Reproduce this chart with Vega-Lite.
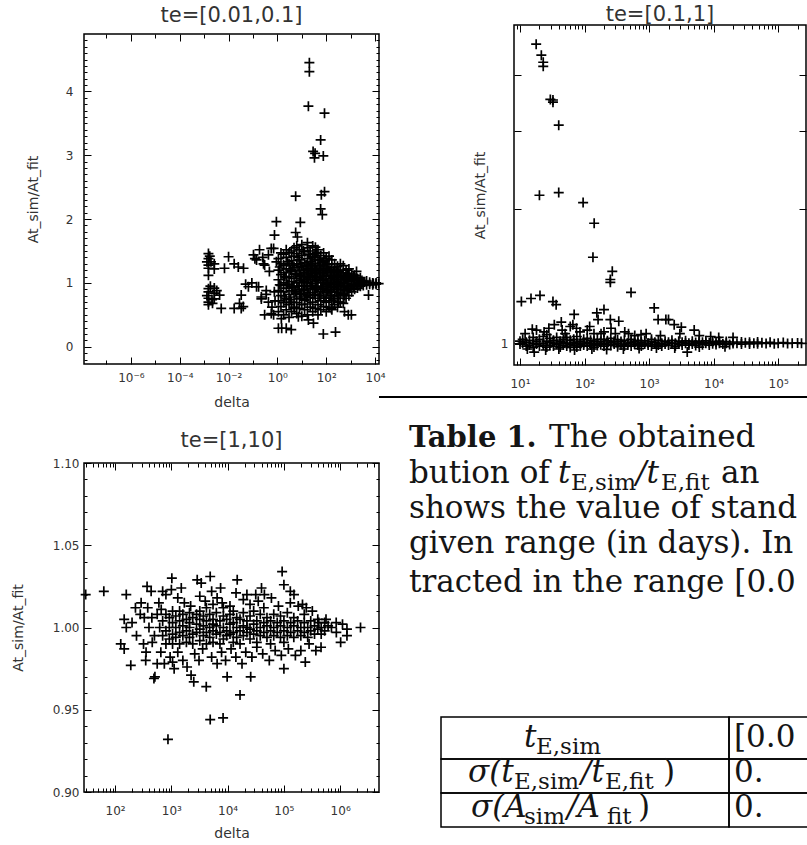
{
  "$schema": "https://vega.github.io/schema/vega-lite/v6.json",
  "padding": {"left": 10, "top": 2, "right": 0, "bottom": 0},
  "background": "white",
  "config": {
    "view": {"stroke": "black", "strokeWidth": 1.5},
    "axis": {"domain": false, "grid": false, "labelFont": "DejaVu Sans", "labelFontSize": 12, "labelColor": "#333", "tickColor": "black", "tickWidth": 1, "titleFont": "DejaVu Sans", "titleFontSize": 14, "titleFontWeight": "normal", "titleColor": "#333", "labelOverlap": false, "labelFlush": false, "labelBound": false, "labelAngle": 0},
    "title": {"font": "DejaVu Sans", "fontSize": 21, "fontWeight": "normal", "color": "#333", "baseline": "alphabetic"}
  },
  "datasets": {
    "lo": [
      {"delta":20.4,"ratio":4.45},{"delta":20.4,"ratio":4.31},{"delta":18.6,"ratio":3.77},{"delta":85,"ratio":3.66},{"delta":59,"ratio":3.24},{"delta":29,"ratio":3.06},{"delta":35,"ratio":3.03},{"delta":76,"ratio":2.99},{"delta":33,"ratio":2.96},{"delta":85,"ratio":2.43},{"delta":63,"ratio":2.38},{"delta":59,"ratio":2.16},{"delta":69,"ratio":2.07},{"delta":5.6,"ratio":2.36},{"delta":0.91,"ratio":1.96},{"delta":8.7,"ratio":1.95},{"delta":0.76,"ratio":1.75},{"delta":5.6,"ratio":1.79},{"delta":6.6,"ratio":1.72},{"delta":76,"ratio":0.2},{"delta":240,"ratio":0.23},{"delta":5400,"ratio":0.81},{"delta":800,"ratio":0.5},{"delta":1.1,"ratio":0.29},{"delta":1.5,"ratio":0.29},{"delta":2.3,"ratio":0.29},{"delta":3.7,"ratio":0.27},{"delta":30,"ratio":0.37},{"delta":1.45,"ratio":0.44},{"delta":7.2,"ratio":0.47},{"delta":18.6,"ratio":0.42},{"delta":560,"ratio":0.55},{"delta":1070,"ratio":0.5},{"delta":316,"ratio":0.7},{"delta":162,"ratio":0.6},{"delta":5,"ratio":0.6},{"delta":13,"ratio":0.74},{"delta":1740,"ratio":1.18},{"delta":3700,"ratio":1.02},{"delta":8500,"ratio":0.99},
      {"delta":0.0015,"ratio":1.46},{"delta":0.0015,"ratio":1.38},{"delta":0.0015,"ratio":1.28},{"delta":0.0015,"ratio":1.23},{"delta":0.0015,"ratio":1.12},{"delta":0.0015,"ratio":0.91},{"delta":0.0015,"ratio":0.86},{"delta":0.0015,"ratio":0.76},{"delta":0.0015,"ratio":0.7},{"delta":0.0015,"ratio":0.66},{"delta":0.0013,"ratio":1.33},{"delta":0.0013,"ratio":0.8},{"delta":0.0026,"ratio":1.3},{"delta":0.0026,"ratio":1.22},{"delta":0.0026,"ratio":0.92},{"delta":0.0026,"ratio":0.84},{"delta":0.0026,"ratio":0.75},{"delta":0.0022,"ratio":0.68},{"delta":0.0019,"ratio":1.33},{"delta":0.0018,"ratio":0.95},{"delta":0.0021,"ratio":0.74},{"delta":0.0017,"ratio":1.42},{"delta":0.0033,"ratio":0.88},
      {"delta":0.01,"ratio":1.41},{"delta":0.017,"ratio":1.3},{"delta":0.041,"ratio":1.23},{"delta":0.0068,"ratio":1.23},{"delta":0.025,"ratio":1.25},{"delta":0.0043,"ratio":0.81},{"delta":0.005,"ratio":0.6},{"delta":0.028,"ratio":0.68},{"delta":0.033,"ratio":0.6},{"delta":0.04,"ratio":0.63},{"delta":0.017,"ratio":0.6},{"delta":0.065,"ratio":0.94},{"delta":0.14,"ratio":0.94},{"delta":0.17,"ratio":0.94},{"delta":0.033,"ratio":0.81},{"delta":0.105,"ratio":1.44},{"delta":0.185,"ratio":1.52},{"delta":0.56,"ratio":1.54},{"delta":0.27,"ratio":1.3},{"delta":0.47,"ratio":1.18},{"delta":0.91,"ratio":1.33},{"delta":0.14,"ratio":1.36},{"delta":0.3,"ratio":1.28},{"delta":0.43,"ratio":1.44},{"delta":0.7,"ratio":1.54},{"delta":0.22,"ratio":0.78},{"delta":0.43,"ratio":0.7},{"delta":0.3,"ratio":0.5},{"delta":0.7,"ratio":0.5},{"delta":0.56,"ratio":0.52},{"delta":0.22,"ratio":0.75},{"delta":0.35,"ratio":0.82},{"delta":0.6,"ratio":0.62},{"delta":0.8,"ratio":0.72},{"delta":0.25,"ratio":1.4},{"delta":0.12,"ratio":1.38},{"delta":0.09,"ratio":1.0},{"delta":0.05,"ratio":0.98},{"delta":0.35,"ratio":0.88},{"delta":0.75,"ratio":0.86},
      {"delta":1.1,"ratio":0.55},{"delta":1.1,"ratio":0.72},{"delta":1.1,"ratio":0.88},{"delta":1.1,"ratio":1.05},{"delta":1.1,"ratio":1.2},{"delta":1.1,"ratio":1.38},
      {"delta":1.4,"ratio":0.63},{"delta":1.4,"ratio":0.8},{"delta":1.4,"ratio":0.96},{"delta":1.4,"ratio":1.13},{"delta":1.4,"ratio":1.3},{"delta":1.4,"ratio":1.47},
      {"delta":1.8,"ratio":0.5},{"delta":1.8,"ratio":0.69},{"delta":1.8,"ratio":0.86},{"delta":1.8,"ratio":1.0},{"delta":1.8,"ratio":1.16},{"delta":1.8,"ratio":1.28},{"delta":1.8,"ratio":1.45},
      {"delta":2.3,"ratio":0.58},{"delta":2.3,"ratio":0.75},{"delta":2.3,"ratio":0.92},{"delta":2.3,"ratio":1.08},{"delta":2.3,"ratio":1.22},{"delta":2.3,"ratio":1.4},{"delta":2.3,"ratio":1.52},
      {"delta":3,"ratio":0.46},{"delta":3,"ratio":0.66},{"delta":3,"ratio":0.82},{"delta":3,"ratio":0.97},{"delta":3,"ratio":1.1},{"delta":3,"ratio":1.3},{"delta":3,"ratio":1.47},
      {"delta":3.8,"ratio":0.55},{"delta":3.8,"ratio":0.7},{"delta":3.8,"ratio":0.88},{"delta":3.8,"ratio":1.02},{"delta":3.8,"ratio":1.18},{"delta":3.8,"ratio":1.35},{"delta":3.8,"ratio":1.5},
      {"delta":4.8,"ratio":0.62},{"delta":4.8,"ratio":0.78},{"delta":4.8,"ratio":0.93},{"delta":4.8,"ratio":1.07},{"delta":4.8,"ratio":1.25},{"delta":4.8,"ratio":1.42},{"delta":4.8,"ratio":1.55},
      {"delta":6.2,"ratio":0.52},{"delta":6.2,"ratio":0.69},{"delta":6.2,"ratio":0.84},{"delta":6.2,"ratio":1.0},{"delta":6.2,"ratio":1.13},{"delta":6.2,"ratio":1.3},{"delta":6.2,"ratio":1.46},{"delta":6.2,"ratio":1.58},
      {"delta":8,"ratio":0.6},{"delta":8,"ratio":0.75},{"delta":8,"ratio":0.9},{"delta":8,"ratio":1.04},{"delta":8,"ratio":1.2},{"delta":8,"ratio":1.36},{"delta":8,"ratio":1.52},
      {"delta":10,"ratio":0.48},{"delta":10,"ratio":0.66},{"delta":10,"ratio":0.82},{"delta":10,"ratio":0.96},{"delta":10,"ratio":1.1},{"delta":10,"ratio":1.26},{"delta":10,"ratio":1.43},{"delta":10,"ratio":1.6},
      {"delta":13,"ratio":0.58},{"delta":13,"ratio":0.73},{"delta":13,"ratio":0.88},{"delta":13,"ratio":1.02},{"delta":13,"ratio":1.16},{"delta":13,"ratio":1.32},{"delta":13,"ratio":1.49},
      {"delta":17,"ratio":0.5},{"delta":17,"ratio":0.67},{"delta":17,"ratio":0.8},{"delta":17,"ratio":0.94},{"delta":17,"ratio":1.08},{"delta":17,"ratio":1.22},{"delta":17,"ratio":1.38},{"delta":17,"ratio":1.55},{"delta":17,"ratio":1.63},
      {"delta":22,"ratio":0.62},{"delta":22,"ratio":0.77},{"delta":22,"ratio":0.91},{"delta":22,"ratio":1.05},{"delta":22,"ratio":1.19},{"delta":22,"ratio":1.34},{"delta":22,"ratio":1.5},
      {"delta":28,"ratio":0.55},{"delta":28,"ratio":0.7},{"delta":28,"ratio":0.85},{"delta":28,"ratio":0.99},{"delta":28,"ratio":1.12},{"delta":28,"ratio":1.27},{"delta":28,"ratio":1.42},{"delta":28,"ratio":1.58},
      {"delta":36,"ratio":0.6},{"delta":36,"ratio":0.76},{"delta":36,"ratio":0.9},{"delta":36,"ratio":1.03},{"delta":36,"ratio":1.17},{"delta":36,"ratio":1.31},{"delta":36,"ratio":1.46},{"delta":36,"ratio":1.56},
      {"delta":46,"ratio":0.5},{"delta":46,"ratio":0.66},{"delta":46,"ratio":0.81},{"delta":46,"ratio":0.95},{"delta":46,"ratio":1.09},{"delta":46,"ratio":1.22},{"delta":46,"ratio":1.37},{"delta":46,"ratio":1.52},
      {"delta":60,"ratio":0.58},{"delta":60,"ratio":0.72},{"delta":60,"ratio":0.87},{"delta":60,"ratio":1.0},{"delta":60,"ratio":1.14},{"delta":60,"ratio":1.28},{"delta":60,"ratio":1.43},
      {"delta":78,"ratio":0.63},{"delta":78,"ratio":0.78},{"delta":78,"ratio":0.92},{"delta":78,"ratio":1.06},{"delta":78,"ratio":1.19},{"delta":78,"ratio":1.33},{"delta":78,"ratio":1.47},
      {"delta":100,"ratio":0.55},{"delta":100,"ratio":0.7},{"delta":100,"ratio":0.85},{"delta":100,"ratio":0.98},{"delta":100,"ratio":1.11},{"delta":100,"ratio":1.25},{"delta":100,"ratio":1.39},
      {"delta":130,"ratio":0.62},{"delta":130,"ratio":0.76},{"delta":130,"ratio":0.9},{"delta":130,"ratio":1.03},{"delta":130,"ratio":1.16},{"delta":130,"ratio":1.3},{"delta":130,"ratio":1.42},
      {"delta":170,"ratio":0.58},{"delta":170,"ratio":0.72},{"delta":170,"ratio":0.86},{"delta":170,"ratio":1.0},{"delta":170,"ratio":1.12},{"delta":170,"ratio":1.24},{"delta":170,"ratio":1.36},
      {"delta":220,"ratio":0.66},{"delta":220,"ratio":0.8},{"delta":220,"ratio":0.93},{"delta":220,"ratio":1.05},{"delta":220,"ratio":1.17},{"delta":220,"ratio":1.3},
      {"delta":290,"ratio":0.62},{"delta":290,"ratio":0.76},{"delta":290,"ratio":0.9},{"delta":290,"ratio":1.02},{"delta":290,"ratio":1.14},{"delta":290,"ratio":1.26},
      {"delta":380,"ratio":0.7},{"delta":380,"ratio":0.84},{"delta":380,"ratio":0.96},{"delta":380,"ratio":1.08},{"delta":380,"ratio":1.2},{"delta":380,"ratio":1.3},
      {"delta":500,"ratio":0.68},{"delta":500,"ratio":0.82},{"delta":500,"ratio":0.94},{"delta":500,"ratio":1.05},{"delta":500,"ratio":1.16},{"delta":500,"ratio":1.27},
      {"delta":650,"ratio":0.76},{"delta":650,"ratio":0.88},{"delta":650,"ratio":0.99},{"delta":650,"ratio":1.1},{"delta":650,"ratio":1.2},
      {"delta":850,"ratio":0.8},{"delta":850,"ratio":0.92},{"delta":850,"ratio":1.02},{"delta":850,"ratio":1.12},{"delta":850,"ratio":1.22},
      {"delta":1100,"ratio":0.86},{"delta":1100,"ratio":0.96},{"delta":1100,"ratio":1.05},{"delta":1100,"ratio":1.14},
      {"delta":1450,"ratio":0.9},{"delta":1450,"ratio":0.98},{"delta":1450,"ratio":1.06},{"delta":1450,"ratio":1.12},
      {"delta":1900,"ratio":0.92},{"delta":1900,"ratio":1.0},{"delta":1900,"ratio":1.07},
      {"delta":2500,"ratio":0.95},{"delta":2500,"ratio":1.02},{"delta":2500,"ratio":1.08},
      {"delta":3300,"ratio":0.96},{"delta":3300,"ratio":1.02},{"delta":4500,"ratio":0.97},{"delta":4500,"ratio":1.03},{"delta":6000,"ratio":0.98},{"delta":6000,"ratio":1.01},{"delta":8000,"ratio":0.97},{"delta":8000,"ratio":1.0},{"delta":11000,"ratio":0.98},{"delta":11000,"ratio":1.0},{"delta":14000,"ratio":0.99},
      {"delta":1.25,"ratio":0.97},{"delta":1.25,"ratio":1.25},{"delta":2.0,"ratio":0.78},{"delta":2.0,"ratio":1.1},{"delta":2.6,"ratio":0.98},{"delta":2.6,"ratio":1.33},{"delta":3.4,"ratio":0.74},{"delta":3.4,"ratio":1.2},{"delta":4.3,"ratio":0.95},{"delta":4.3,"ratio":1.28},{"delta":5.4,"ratio":0.86},{"delta":5.4,"ratio":1.15},{"delta":7,"ratio":0.95},{"delta":7,"ratio":1.24},{"delta":7,"ratio":1.4},{"delta":9,"ratio":0.83},{"delta":9,"ratio":1.12},{"delta":9,"ratio":1.3},{"delta":11.5,"ratio":0.9},{"delta":11.5,"ratio":1.05},{"delta":11.5,"ratio":1.2},{"delta":11.5,"ratio":1.5},{"delta":15,"ratio":0.78},{"delta":15,"ratio":1.0},{"delta":15,"ratio":1.14},{"delta":15,"ratio":1.28},{"delta":19.5,"ratio":0.85},{"delta":19.5,"ratio":1.1},{"delta":19.5,"ratio":1.25},{"delta":19.5,"ratio":1.45},{"delta":25,"ratio":0.96},{"delta":25,"ratio":1.15},{"delta":25,"ratio":1.3},{"delta":32,"ratio":0.82},{"delta":32,"ratio":1.08},{"delta":32,"ratio":1.22},{"delta":32,"ratio":1.4},{"delta":41,"ratio":0.93},{"delta":41,"ratio":1.05},{"delta":41,"ratio":1.2},{"delta":41,"ratio":1.48},{"delta":53,"ratio":0.8},{"delta":53,"ratio":1.1},{"delta":53,"ratio":1.25},{"delta":53,"ratio":1.35},{"delta":68,"ratio":0.9},{"delta":68,"ratio":1.04},{"delta":68,"ratio":1.16},{"delta":68,"ratio":1.32},{"delta":89,"ratio":0.76},{"delta":89,"ratio":0.95},{"delta":89,"ratio":1.1},{"delta":89,"ratio":1.22},{"delta":89,"ratio":1.35},{"delta":115,"ratio":0.88},{"delta":115,"ratio":1.0},{"delta":115,"ratio":1.2},{"delta":115,"ratio":1.3},{"delta":150,"ratio":0.8},{"delta":150,"ratio":0.95},{"delta":150,"ratio":1.07},{"delta":150,"ratio":1.2},{"delta":195,"ratio":0.75},{"delta":195,"ratio":0.93},{"delta":195,"ratio":1.08},{"delta":195,"ratio":1.18},{"delta":255,"ratio":0.85},{"delta":255,"ratio":0.98},{"delta":255,"ratio":1.1},{"delta":255,"ratio":1.2},{"delta":330,"ratio":0.8},{"delta":330,"ratio":0.95},{"delta":330,"ratio":1.05},{"delta":330,"ratio":1.18},{"delta":440,"ratio":0.9},{"delta":440,"ratio":1.0},{"delta":440,"ratio":1.12},{"delta":570,"ratio":0.8},{"delta":570,"ratio":0.95},{"delta":570,"ratio":1.08},{"delta":750,"ratio":0.9},{"delta":750,"ratio":1.04},{"delta":750,"ratio":1.15},{"delta":980,"ratio":0.92},{"delta":980,"ratio":1.08},{"delta":1300,"ratio":0.95},{"delta":1300,"ratio":1.1},{"delta":1700,"ratio":0.97},{"delta":1700,"ratio":1.04},{"delta":2200,"ratio":0.96},{"delta":2200,"ratio":1.05},{"delta":2900,"ratio":0.98},{"delta":2900,"ratio":1.04}
    ],
    "mid": [
      {"delta":17.8,"ratio":4.7},{"delta":21.4,"ratio":4.44},{"delta":22.9,"ratio":4.28},{"delta":22.9,"ratio":4.19},{"delta":29.5,"ratio":3.53},{"delta":32.4,"ratio":3.52},{"delta":32.4,"ratio":3.48},{"delta":39.8,"ratio":3.09},{"delta":20,"ratio":2.15},{"delta":39.8,"ratio":2.18},{"delta":95,"ratio":2.07},{"delta":141,"ratio":1.86},{"delta":135,"ratio":1.56},{"delta":269,"ratio":1.45},{"delta":251,"ratio":1.39},{"delta":251,"ratio":1.37},{"delta":525,"ratio":1.3},{"delta":1200,"ratio":1.2},{"delta":1380,"ratio":1.13},{"delta":10.5,"ratio":1.24},{"delta":14.8,"ratio":1.26},{"delta":20.4,"ratio":1.28},{"delta":32.4,"ratio":1.24},{"delta":36.3,"ratio":1.22},{"delta":69,"ratio":1.16},{"delta":155,"ratio":1.17},{"delta":162,"ratio":1.13},{"delta":200,"ratio":1.19},{"delta":251,"ratio":1.13},{"delta":339,"ratio":1.12},{"delta":257,"ratio":1.08},{"delta":43.6,"ratio":1.115},{"delta":34,"ratio":1.1},{"delta":66,"ratio":1.1},{"delta":15.5,"ratio":1.075},{"delta":23.6,"ratio":1.06},{"delta":1820,"ratio":1.13},{"delta":2450,"ratio":1.1},{"delta":3160,"ratio":1.086},{"delta":5000,"ratio":1.07},{"delta":16.6,"ratio":0.955},{"delta":3900,"ratio":0.955},{"delta":2000,"ratio":1.13},
      {"delta":12,"ratio":1.05},{"delta":18,"ratio":1.07},{"delta":28,"ratio":1.08},{"delta":45,"ratio":1.07},{"delta":60,"ratio":1.09},{"delta":85,"ratio":1.06},{"delta":110,"ratio":1.07},{"delta":140,"ratio":1.05},{"delta":200,"ratio":1.06},{"delta":300,"ratio":1.05},{"delta":420,"ratio":1.06},{"delta":600,"ratio":1.04},{"delta":900,"ratio":1.05},{"delta":1500,"ratio":1.04},{"delta":3000,"ratio":1.05},{"delta":6000,"ratio":1.04},{"delta":9000,"ratio":1.035},{"delta":26,"ratio":1.045},{"delta":50,"ratio":1.05},{"delta":75,"ratio":1.08},{"delta":120,"ratio":1.09},{"delta":180,"ratio":1.05},{"delta":480,"ratio":1.05},{"delta":750,"ratio":1.045},{"delta":12000,"ratio":1.03},{"delta":20000,"ratio":1.03},
      {"delta":13,"ratio":0.97},{"delta":25,"ratio":0.965},{"delta":40,"ratio":0.97},{"delta":70,"ratio":0.965},{"delta":130,"ratio":0.97},{"delta":220,"ratio":0.968},{"delta":400,"ratio":0.97},{"delta":700,"ratio":0.972},{"delta":1300,"ratio":0.975},{"delta":2500,"ratio":0.975},{"delta":6000,"ratio":0.98},{"delta":15000,"ratio":0.982},
      {"delta":10,"ratio":0.995},{"delta":10,"ratio":1.01},{"delta":11,"ratio":1.0},{"delta":11,"ratio":1.02},{"delta":12.5,"ratio":0.985},{"delta":12.5,"ratio":1.005},{"delta":14,"ratio":0.99},{"delta":14,"ratio":1.015},{"delta":16,"ratio":1.0},{"delta":16,"ratio":0.98},{"delta":16,"ratio":1.03},{"delta":18,"ratio":0.995},{"delta":18,"ratio":1.01},{"delta":20,"ratio":0.985},{"delta":20,"ratio":1.02},{"delta":23,"ratio":1.0},{"delta":23,"ratio":0.99},{"delta":23,"ratio":1.035},{"delta":26,"ratio":0.98},{"delta":26,"ratio":1.01},{"delta":29,"ratio":1.005},{"delta":29,"ratio":0.99},{"delta":29,"ratio":1.025},{"delta":33,"ratio":0.985},{"delta":33,"ratio":1.0},{"delta":33,"ratio":1.015},{"delta":37,"ratio":0.995},{"delta":37,"ratio":1.03},{"delta":42,"ratio":0.98},{"delta":42,"ratio":1.01},{"delta":42,"ratio":1.0},{"delta":47,"ratio":0.99},{"delta":47,"ratio":1.02},{"delta":47,"ratio":1.005},{"delta":53,"ratio":0.985},{"delta":53,"ratio":1.0},{"delta":53,"ratio":1.03},{"delta":60,"ratio":0.995},{"delta":60,"ratio":1.015},{"delta":60,"ratio":0.978},{"delta":68,"ratio":0.99},{"delta":68,"ratio":1.005},{"delta":68,"ratio":1.02},{"delta":76,"ratio":0.98},{"delta":76,"ratio":1.0},{"delta":76,"ratio":1.035},{"delta":86,"ratio":0.995},{"delta":86,"ratio":1.01},{"delta":86,"ratio":0.985},{"delta":97,"ratio":1.0},{"delta":97,"ratio":1.02},{"delta":97,"ratio":0.99},{"delta":110,"ratio":0.985},{"delta":110,"ratio":1.005},{"delta":110,"ratio":1.025},{"delta":124,"ratio":0.99},{"delta":124,"ratio":1.0},{"delta":124,"ratio":1.015},{"delta":140,"ratio":0.98},{"delta":140,"ratio":1.01},{"delta":140,"ratio":0.995},{"delta":158,"ratio":1.0},{"delta":158,"ratio":1.02},{"delta":158,"ratio":0.988},{"delta":178,"ratio":0.992},{"delta":178,"ratio":1.008},{"delta":200,"ratio":0.985},{"delta":200,"ratio":1.0},{"delta":200,"ratio":1.02},{"delta":226,"ratio":0.995},{"delta":226,"ratio":1.012},{"delta":255,"ratio":0.988},{"delta":255,"ratio":1.005},{"delta":255,"ratio":1.025},{"delta":288,"ratio":0.995},{"delta":288,"ratio":1.01},{"delta":325,"ratio":0.982},{"delta":325,"ratio":1.0},{"delta":325,"ratio":1.018},{"delta":367,"ratio":0.99},{"delta":367,"ratio":1.008},{"delta":414,"ratio":0.995},{"delta":414,"ratio":1.015},{"delta":414,"ratio":0.985},{"delta":467,"ratio":1.0},{"delta":467,"ratio":0.99},{"delta":527,"ratio":0.985},{"delta":527,"ratio":1.005},{"delta":527,"ratio":1.02},{"delta":595,"ratio":0.995},{"delta":595,"ratio":1.01},{"delta":672,"ratio":0.99},{"delta":672,"ratio":1.0},{"delta":672,"ratio":1.015},{"delta":758,"ratio":0.985},{"delta":758,"ratio":1.005},{"delta":856,"ratio":0.995},{"delta":856,"ratio":1.012},{"delta":966,"ratio":0.99},{"delta":966,"ratio":1.0},{"delta":1090,"ratio":0.985},{"delta":1090,"ratio":1.008},{"delta":1090,"ratio":1.02},{"delta":1230,"ratio":0.995},{"delta":1230,"ratio":1.005},{"delta":1390,"ratio":0.99},{"delta":1390,"ratio":1.015},{"delta":1570,"ratio":0.985},{"delta":1570,"ratio":1.0},{"delta":1770,"ratio":0.995},{"delta":1770,"ratio":1.01},{"delta":2000,"ratio":0.99},{"delta":2000,"ratio":1.005},{"delta":2260,"ratio":0.998},{"delta":2260,"ratio":1.015},{"delta":2550,"ratio":0.985},{"delta":2550,"ratio":1.0},{"delta":2880,"ratio":0.995},{"delta":2880,"ratio":1.01},{"delta":3250,"ratio":0.99},{"delta":3250,"ratio":1.005},{"delta":3670,"ratio":1.0},{"delta":3670,"ratio":1.012},{"delta":4140,"ratio":0.99},{"delta":4140,"ratio":1.0},{"delta":4670,"ratio":0.995},{"delta":4670,"ratio":1.01},{"delta":5270,"ratio":0.988},{"delta":5270,"ratio":1.003},{"delta":5950,"ratio":0.998},{"delta":5950,"ratio":1.01},{"delta":6720,"ratio":0.992},{"delta":6720,"ratio":1.005},{"delta":7580,"ratio":1.0},{"delta":7580,"ratio":1.012},{"delta":8560,"ratio":0.99},{"delta":8560,"ratio":1.002},{"delta":9660,"ratio":0.997},{"delta":9660,"ratio":1.008},{"delta":10900,"ratio":0.993},{"delta":10900,"ratio":1.004},{"delta":12300,"ratio":1.0},{"delta":12300,"ratio":1.01},{"delta":13900,"ratio":0.995},{"delta":15700,"ratio":1.0},{"delta":15700,"ratio":1.008},{"delta":17700,"ratio":0.993},{"delta":20000,"ratio":0.998},{"delta":20000,"ratio":1.006},{"delta":23000,"ratio":1.0},{"delta":27000,"ratio":0.995},{"delta":27000,"ratio":1.006},{"delta":31000,"ratio":1.002},{"delta":36000,"ratio":0.996},{"delta":36000,"ratio":1.005},{"delta":42000,"ratio":1.0},{"delta":48000,"ratio":0.997},{"delta":48000,"ratio":1.006},{"delta":56000,"ratio":1.002},{"delta":65000,"ratio":0.998},{"delta":75000,"ratio":1.004},{"delta":87000,"ratio":0.997},{"delta":100000,"ratio":1.0},{"delta":120000,"ratio":1.003},{"delta":140000,"ratio":0.998},{"delta":165000,"ratio":1.0},{"delta":200000,"ratio":1.001},{"delta":230000,"ratio":0.999}
    ],
    "hi": [
      {"delta":63,"ratio":1.022},{"delta":30,"ratio":1.02},{"delta":158,"ratio":1.02},{"delta":370,"ratio":1.025},{"delta":437,"ratio":1.022},{"delta":1020,"ratio":1.03},{"delta":1000,"ratio":1.023},{"delta":2880,"ratio":1.029},{"delta":3390,"ratio":1.027},{"delta":4900,"ratio":1.031},{"delta":14800,"ratio":1.029},{"delta":14100,"ratio":1.021},{"delta":31600,"ratio":1.02},{"delta":93000,"ratio":1.034},{"delta":100000,"ratio":1.026},{"delta":151000,"ratio":1.02},{"delta":214000,"ratio":1.014},{"delta":2300000,"ratio":1.0},{"delta":1320000,"ratio":0.999},{"delta":1320000,"ratio":0.995},{"delta":700000,"ratio":1.0},{"delta":850000,"ratio":1.003},{"delta":145,"ratio":1.005},{"delta":158,"ratio":1.0},{"delta":126,"ratio":0.99},{"delta":145,"ratio":0.987},{"delta":190,"ratio":0.977},{"delta":457,"ratio":0.991},{"delta":355,"ratio":0.985},{"delta":490,"ratio":0.969},{"delta":510,"ratio":0.97},{"delta":450,"ratio":1.006},{"delta":330,"ratio":1.006},{"delta":660,"ratio":1.011},{"delta":1120,"ratio":0.975},{"delta":1050,"ratio":0.979},{"delta":2240,"ratio":0.971},{"delta":2500,"ratio":0.967},{"delta":4170,"ratio":0.964},{"delta":9800,"ratio":0.97},{"delta":25700,"ratio":0.97},{"delta":100000,"ratio":0.975},{"delta":4900,"ratio":0.944},{"delta":8300,"ratio":0.945},{"delta":870,"ratio":0.932},{"delta":16600,"ratio":0.959},{"delta":457000,"ratio":0.988},{"delta":417000,"ratio":1.003},{"delta":855000,"ratio":0.997},{"delta":1100000,"ratio":1.002},{"delta":1020000,"ratio":0.991},{"delta":560000,"ratio":1.005},
      {"delta":600,"ratio":1.015},{"delta":800,"ratio":1.02},{"delta":1300,"ratio":1.018},{"delta":1700,"ratio":1.015},{"delta":2200,"ratio":1.013},{"delta":3200,"ratio":1.019},{"delta":4000,"ratio":1.016},{"delta":5500,"ratio":1.014},{"delta":6500,"ratio":1.018},{"delta":8000,"ratio":1.015},{"delta":11000,"ratio":1.013},{"delta":19000,"ratio":1.017},{"delta":25000,"ratio":1.014},{"delta":35000,"ratio":1.016},{"delta":45000,"ratio":1.02},{"delta":60000,"ratio":1.018},{"delta":80000,"ratio":1.013},{"delta":130000,"ratio":1.015},{"delta":180000,"ratio":1.013},{"delta":250000,"ratio":1.012},{"delta":320000,"ratio":1.01},{"delta":290,"ratio":1.015},{"delta":380,"ratio":1.012},{"delta":700,"ratio":1.022},{"delta":1500,"ratio":1.024},{"delta":5200,"ratio":1.022},{"delta":7500,"ratio":1.024},{"delta":22000,"ratio":1.02},{"delta":40000,"ratio":1.024},{"delta":130000,"ratio":1.022},
      {"delta":650,"ratio":0.985},{"delta":750,"ratio":0.978},{"delta":950,"ratio":0.982},{"delta":1300,"ratio":0.985},{"delta":1600,"ratio":0.98},{"delta":1900,"ratio":0.976},{"delta":2600,"ratio":0.984},{"delta":3100,"ratio":0.98},{"delta":3600,"ratio":0.987},{"delta":5200,"ratio":0.982},{"delta":6500,"ratio":0.978},{"delta":7800,"ratio":0.985},{"delta":9200,"ratio":0.98},{"delta":11500,"ratio":0.987},{"delta":14000,"ratio":0.982},{"delta":18000,"ratio":0.978},{"delta":21000,"ratio":0.985},{"delta":27000,"ratio":0.982},{"delta":33000,"ratio":0.988},{"delta":42000,"ratio":0.984},{"delta":55000,"ratio":0.98},{"delta":70000,"ratio":0.986},{"delta":90000,"ratio":0.983},{"delta":120000,"ratio":0.987},{"delta":160000,"ratio":0.983},{"delta":200000,"ratio":0.986},{"delta":280000,"ratio":0.99},{"delta":370000,"ratio":0.986},{"delta":240000,"ratio":0.979},{"delta":350,"ratio":0.98},{"delta":560,"ratio":0.978},
      {"delta":200,"ratio":1.003},{"delta":240,"ratio":0.995},{"delta":280,"ratio":1.008},{"delta":320,"ratio":0.99},{"delta":400,"ratio":1.0},{"delta":500,"ratio":0.995},{"delta":560,"ratio":1.008},{"delta":620,"ratio":1.0},{"delta":230,"ratio":1.012},
      {"delta":700,"ratio":0.995},{"delta":700,"ratio":1.004},{"delta":800,"ratio":0.998},{"delta":800,"ratio":1.008},{"delta":800,"ratio":0.99},{"delta":920,"ratio":1.0},{"delta":920,"ratio":0.993},{"delta":920,"ratio":1.006},{"delta":1050,"ratio":0.996},{"delta":1050,"ratio":1.003},{"delta":1050,"ratio":1.01},{"delta":1050,"ratio":0.99},{"delta":1200,"ratio":1.0},{"delta":1200,"ratio":0.994},{"delta":1200,"ratio":1.007},{"delta":1400,"ratio":0.997},{"delta":1400,"ratio":1.004},{"delta":1400,"ratio":0.99},{"delta":1400,"ratio":1.01},{"delta":1600,"ratio":1.001},{"delta":1600,"ratio":0.995},{"delta":1600,"ratio":1.008},{"delta":1850,"ratio":0.998},{"delta":1850,"ratio":1.005},{"delta":1850,"ratio":0.991},{"delta":2100,"ratio":1.0},{"delta":2100,"ratio":0.994},{"delta":2100,"ratio":1.009},{"delta":2100,"ratio":1.003},{"delta":2400,"ratio":0.996},{"delta":2400,"ratio":1.006},{"delta":2400,"ratio":0.99},{"delta":2800,"ratio":1.002},{"delta":2800,"ratio":0.997},{"delta":2800,"ratio":1.008},{"delta":3200,"ratio":0.999},{"delta":3200,"ratio":0.992},{"delta":3200,"ratio":1.005},{"delta":3200,"ratio":1.01},{"delta":3700,"ratio":1.001},{"delta":3700,"ratio":0.995},{"delta":3700,"ratio":1.007},{"delta":4200,"ratio":0.997},{"delta":4200,"ratio":1.004},{"delta":4200,"ratio":0.99},{"delta":4200,"ratio":1.012},{"delta":4800,"ratio":1.0},{"delta":4800,"ratio":0.994},{"delta":4800,"ratio":1.008},{"delta":5500,"ratio":0.998},{"delta":5500,"ratio":1.005},{"delta":5500,"ratio":0.991},{"delta":5500,"ratio":1.002},{"delta":6300,"ratio":1.001},{"delta":6300,"ratio":0.996},{"delta":6300,"ratio":1.009},{"delta":7300,"ratio":0.997},{"delta":7300,"ratio":1.004},{"delta":7300,"ratio":0.99},{"delta":8400,"ratio":1.0},{"delta":8400,"ratio":0.993},{"delta":8400,"ratio":1.007},{"delta":8400,"ratio":1.012},{"delta":9600,"ratio":0.998},{"delta":9600,"ratio":1.005},{"delta":9600,"ratio":0.995},{"delta":11000,"ratio":1.002},{"delta":11000,"ratio":0.996},{"delta":11000,"ratio":1.008},{"delta":12600,"ratio":0.997},{"delta":12600,"ratio":1.003},{"delta":12600,"ratio":0.991},{"delta":12600,"ratio":1.01},{"delta":14500,"ratio":1.0},{"delta":14500,"ratio":0.994},{"delta":14500,"ratio":1.006},{"delta":16600,"ratio":0.998},{"delta":16600,"ratio":1.005},{"delta":16600,"ratio":0.99},{"delta":19000,"ratio":1.001},{"delta":19000,"ratio":0.995},{"delta":19000,"ratio":1.009},{"delta":22000,"ratio":0.997},{"delta":22000,"ratio":1.004},{"delta":22000,"ratio":1.0},{"delta":25000,"ratio":0.999},{"delta":25000,"ratio":0.993},{"delta":25000,"ratio":1.007},{"delta":29000,"ratio":1.002},{"delta":29000,"ratio":0.996},{"delta":29000,"ratio":1.01},{"delta":33000,"ratio":0.998},{"delta":33000,"ratio":1.004},{"delta":33000,"ratio":0.991},{"delta":38000,"ratio":1.0},{"delta":38000,"ratio":0.995},{"delta":38000,"ratio":1.008},{"delta":44000,"ratio":0.997},{"delta":44000,"ratio":1.003},{"delta":44000,"ratio":1.012},{"delta":50000,"ratio":1.001},{"delta":50000,"ratio":0.994},{"delta":50000,"ratio":1.006},{"delta":58000,"ratio":0.998},{"delta":58000,"ratio":1.004},{"delta":58000,"ratio":0.99},{"delta":66000,"ratio":1.0},{"delta":66000,"ratio":0.995},{"delta":66000,"ratio":1.008},{"delta":76000,"ratio":0.997},{"delta":76000,"ratio":1.003},{"delta":87000,"ratio":1.001},{"delta":87000,"ratio":0.994},{"delta":87000,"ratio":1.007},{"delta":100000,"ratio":0.998},{"delta":100000,"ratio":1.004},{"delta":100000,"ratio":0.991},{"delta":115000,"ratio":1.0},{"delta":115000,"ratio":0.995},{"delta":115000,"ratio":1.009},{"delta":132000,"ratio":0.997},{"delta":132000,"ratio":1.003},{"delta":150000,"ratio":1.001},{"delta":150000,"ratio":0.994},{"delta":150000,"ratio":1.006},{"delta":175000,"ratio":0.998},{"delta":175000,"ratio":1.004},{"delta":200000,"ratio":1.0},{"delta":200000,"ratio":0.995},{"delta":230000,"ratio":0.997},{"delta":230000,"ratio":1.003},{"delta":230000,"ratio":1.008},{"delta":265000,"ratio":1.0},{"delta":265000,"ratio":0.994},{"delta":300000,"ratio":0.998},{"delta":300000,"ratio":1.004},{"delta":350000,"ratio":1.001},{"delta":350000,"ratio":0.996},{"delta":400000,"ratio":0.999},{"delta":400000,"ratio":1.005},{"delta":460000,"ratio":1.0},{"delta":460000,"ratio":0.996},{"delta":530000,"ratio":0.998},{"delta":530000,"ratio":1.003},{"delta":610000,"ratio":1.001}
    ],
    "caption": [
      {"slot":1,"line":1,"kind":"bold","text":"Table 1."},
      {"slot":2,"line":1,"kind":"body","text":"The obtained"},
      {"slot":1,"line":2,"kind":"body","text":"bution of"},
      {"slot":3,"line":2,"kind":"ital","text":"t"},
      {"slot":4,"line":2,"kind":"sub","text":"E,sim"},
      {"slot":5,"line":2,"kind":"ital","text":"/t"},
      {"slot":6,"line":2,"kind":"sub","text":"E,fit"},
      {"slot":7,"line":2,"kind":"body","text":"an"},
      {"slot":1,"line":3,"kind":"body","text":"shows the value of stand"},
      {"slot":1,"line":4,"kind":"body","text":"given range (in days). In"},
      {"slot":1,"line":5,"kind":"body","text":"tracted in the range [0.0"},
      {"slot":9,"line":7,"kind":"ital","text":"t"},
      {"slot":10,"line":7,"kind":"sub","text":"E,sim"},
      {"slot":22,"line":7,"kind":"body","text":"[0.0"},
      {"slot":11,"line":9,"kind":"ital","text":"σ(t"},
      {"slot":12,"line":9,"kind":"sub","text":"E,sim"},
      {"slot":13,"line":9,"kind":"ital","text":"/t"},
      {"slot":14,"line":9,"kind":"sub","text":"E,fit"},
      {"slot":15,"line":9,"kind":"body","text":")"},
      {"slot":22,"line":9,"kind":"body","text":"0."},
      {"slot":16,"line":11,"kind":"ital","text":"σ(A"},
      {"slot":17,"line":11,"kind":"sub","text":"sim"},
      {"slot":18,"line":11,"kind":"ital","text":"/A"},
      {"slot":19,"line":11,"kind":"sub","text":"fit"},
      {"slot":20,"line":11,"kind":"body","text":")"},
      {"slot":22,"line":11,"kind":"body","text":"0."}
    ],
    "frame": [{"slot":0,"slotEnd":23,"line":0}],
    "cells": [
      {"slot":8,"slotEnd":21,"line":6,"lineEnd":8},{"slot":21,"slotEnd":23,"line":6,"lineEnd":8},
      {"slot":8,"slotEnd":21,"line":8,"lineEnd":10},{"slot":21,"slotEnd":23,"line":8,"lineEnd":10},
      {"slot":8,"slotEnd":21,"line":10,"lineEnd":12},{"slot":21,"slotEnd":23,"line":10,"lineEnd":12}
    ]
  },
  "hconcat": [
    {
      "vconcat": [
        {"width": 295, "height": 9, "data": {"values": []}, "mark": "point", "view": {"stroke": null}},
        {
          "vconcat": [
            {
              "width": 295, "height": 330,
              "title": {"text": "te=[0.01,0.1]", "offset": 8},
              "data": {"name": "lo"},
              "layer": [
                {
                  "mark": {"type": "point", "shape": "M-1,0H1M0,-1V1", "size": 100, "filled": false, "color": "black", "strokeWidth": 1.7, "opacity": 1},
                  "encoding": {
                    "x": {"field": "delta", "type": "quantitative", "scale": {"type": "log", "domain": [1.2e-8, 14500], "nice": false},
                      "axis": {"title": "delta", "titlePadding": 9, "values": [1e-8,1e-7,1e-6,1e-5,1e-4,1e-3,1e-2,1e-1,1,10,100,1000,10000],
                        "tickSize": {"condition": {"test": "round(log(datum.value)/LN10) % 2 == 0", "value": -7}, "value": -4},
                        "labelPadding": 15,
                        "labelExpr": "(round(log(datum.value)/LN10) % 2 == 0 && datum.value > 5e-7) ? '10' + (datum.value < 0.5 ? '⁻' : '') + substring('⁰¹²³⁴⁵⁶⁷⁸⁹', abs(round(log(datum.value)/LN10)), abs(round(log(datum.value)/LN10)) + 1) : ''"}},
                    "y": {"field": "ratio", "type": "quantitative", "scale": {"domain": [-0.27, 4.9], "zero": false, "nice": false},
                      "axis": {"title": "At_sim/At_fit", "titlePadding": 25, "values": [-0.2,-0.1,0,0.1,0.2,0.3,0.4,0.5,0.6,0.7,0.8,0.9,1,1.1,1.2,1.3,1.4,1.5,1.6,1.7,1.8,1.9,2,2.1,2.2,2.3,2.4,2.5,2.6,2.7,2.8,2.9,3,3.1,3.2,3.3,3.4,3.5,3.6,3.7,3.8,3.9,4,4.1,4.2,4.3,4.4,4.5,4.6,4.7,4.8],
                        "tickSize": {"condition": {"test": "abs(datum.value - round(datum.value)) < 0.001", "value": -7}, "value": -3},
                        "labelPadding": 18,
                        "labelExpr": "abs(datum.value - round(datum.value)) < 0.001 ? format(round(datum.value), 'd') : ''"}}
                  }
                },
                {
                  "transform": [{"filter": "false"}],
                  "mark": "point",
                  "encoding": {
                    "x": {"field": "delta", "type": "quantitative", "scale": {"type": "log", "domain": [1.2e-8, 14500], "nice": false},
                      "axis": {"orient": "top", "title": null, "labels": false, "values": [1e-8,1e-7,1e-6,1e-5,1e-4,1e-3,1e-2,1e-1,1,10,100,1000,10000],
                        "tickSize": {"condition": {"test": "round(log(datum.value)/LN10) % 2 == 0", "value": -7}, "value": -4}}},
                    "y": {"field": "ratio", "type": "quantitative", "scale": {"domain": [-0.27, 4.9], "zero": false, "nice": false},
                      "axis": {"orient": "right", "title": null, "labels": false, "values": [-0.2,-0.1,0,0.1,0.2,0.3,0.4,0.5,0.6,0.7,0.8,0.9,1,1.1,1.2,1.3,1.4,1.5,1.6,1.7,1.8,1.9,2,2.1,2.2,2.3,2.4,2.5,2.6,2.7,2.8,2.9,3,3.1,3.2,3.3,3.4,3.5,3.6,3.7,3.8,3.9,4,4.1,4.2,4.3,4.4,4.5,4.6,4.7,4.8],
                        "tickSize": {"condition": {"test": "abs(datum.value - round(datum.value)) < 0.001", "value": -7}, "value": -3}}}
                  }
                }
              ],
              "resolve": {"axis": {"x": "independent", "y": "independent"}}
            },
            {
              "width": 295, "height": 329,
              "title": {"text": "te=[1,10]", "offset": 6},
              "data": {"name": "hi"},
              "layer": [
                {
                  "mark": {"type": "point", "shape": "M-1,0H1M0,-1V1", "size": 100, "filled": false, "color": "black", "strokeWidth": 1.7, "opacity": 1},
                  "encoding": {
                    "x": {"field": "delta", "type": "quantitative", "scale": {"type": "log", "domain": [28, 4900000], "nice": false},
                      "axis": {"title": "delta", "titlePadding": 7, "values": [30,40,50,60,70,80,90,100,200,300,400,500,600,700,800,900,1000,2000,3000,4000,5000,6000,7000,8000,9000,10000,20000,30000,40000,50000,60000,70000,80000,90000,100000,200000,300000,400000,500000,600000,700000,800000,900000,1000000,2000000,3000000,4000000],
                        "tickSize": {"condition": {"test": "abs(log(datum.value)/LN10 - round(log(datum.value)/LN10)) < 0.01", "value": -7}, "value": -4},
                        "labelPadding": 20,
                        "labelExpr": "abs(log(datum.value)/LN10 - round(log(datum.value)/LN10)) < 0.01 ? '10' + substring('⁰¹²³⁴⁵⁶⁷⁸⁹', round(log(datum.value)/LN10), round(log(datum.value)/LN10) + 1) : ''"}},
                    "y": {"field": "ratio", "type": "quantitative", "scale": {"domain": [0.9, 1.1], "zero": false, "nice": false},
                      "axis": {"title": "At_sim/At_fit", "titlePadding": 27, "values": [0.9,0.91,0.92,0.93,0.94,0.95,0.96,0.97,0.98,0.99,1.0,1.01,1.02,1.03,1.04,1.05,1.06,1.07,1.08,1.09,1.1],
                        "tickSize": {"condition": {"test": "abs(datum.value * 20 - round(datum.value * 20)) < 0.01", "value": -7}, "value": -3},
                        "labelPadding": 12,
                        "labelExpr": "abs(datum.value * 20 - round(datum.value * 20)) < 0.01 ? format(datum.value, '.2f') : ''"}}
                  }
                },
                {
                  "transform": [{"filter": "false"}],
                  "mark": "point",
                  "encoding": {
                    "x": {"field": "delta", "type": "quantitative", "scale": {"type": "log", "domain": [28, 4900000], "nice": false},
                      "axis": {"orient": "top", "title": null, "labels": false, "values": [30,40,50,60,70,80,90,100,200,300,400,500,600,700,800,900,1000,2000,3000,4000,5000,6000,7000,8000,9000,10000,20000,30000,40000,50000,60000,70000,80000,90000,100000,200000,300000,400000,500000,600000,700000,800000,900000,1000000,2000000,3000000,4000000],
                        "tickSize": {"condition": {"test": "abs(log(datum.value)/LN10 - round(log(datum.value)/LN10)) < 0.01", "value": -7}, "value": -4}}},
                    "y": {"field": "ratio", "type": "quantitative", "scale": {"domain": [0.9, 1.1], "zero": false, "nice": false},
                      "axis": {"orient": "right", "title": null, "labels": false, "values": [0.9,0.91,0.92,0.93,0.94,0.95,0.96,0.97,0.98,0.99,1.0,1.01,1.02,1.03,1.04,1.05,1.06,1.07,1.08,1.09,1.1],
                        "tickSize": {"condition": {"test": "abs(datum.value * 20 - round(datum.value * 20)) < 0.01", "value": -7}, "value": -3}}}
                  }
                }
              ],
              "resolve": {"axis": {"x": "independent", "y": "independent"}}
            }
          ],
          "spacing": 99,
          "bounds": "flush"
        }
      ],
      "spacing": 0,
      "bounds": "flush"
    },
    {
      "vconcat": [
        {
          "width": 292, "height": 340,
          "title": {"text": "te=[0.1,1]", "offset": 0},
          "data": {"name": "mid"},
          "layer": [
            {
              "mark": {"type": "point", "shape": "M-1,0H1M0,-1V1", "size": 100, "filled": false, "color": "black", "strokeWidth": 1.7, "opacity": 1},
              "encoding": {
                "x": {"field": "delta", "type": "quantitative", "scale": {"type": "log", "domain": [8.07, 270000], "nice": false},
                  "axis": {"title": null, "values": [9,10,20,30,40,50,60,70,80,90,100,200,300,400,500,600,700,800,900,1000,2000,3000,4000,5000,6000,7000,8000,9000,10000,20000,30000,40000,50000,60000,70000,80000,90000,100000,200000],
                    "tickSize": {"condition": {"test": "abs(log(datum.value)/LN10 - round(log(datum.value)/LN10)) < 0.01", "value": -7}, "value": -4},
                    "labelPadding": 20,
                    "labelExpr": "abs(log(datum.value)/LN10 - round(log(datum.value)/LN10)) < 0.01 ? '10' + substring('⁰¹²³⁴⁵⁶⁷⁸⁹', round(log(datum.value)/LN10), round(log(datum.value)/LN10) + 1) : ''"}},
                "y": {"field": "ratio", "type": "quantitative", "scale": {"type": "log", "domain": [0.893, 5.19], "nice": false},
                  "axis": {"title": "At_sim/At_fit", "titlePadding": 13, "values": [1,2,3,4], "tickSize": -7, "labelPadding": 13,
                    "labelExpr": "datum.value == 1 ? '1' : ''"}}
              }
            },
            {
              "transform": [{"filter": "false"}],
              "mark": "point",
              "encoding": {
                "x": {"field": "delta", "type": "quantitative", "scale": {"type": "log", "domain": [8.07, 270000], "nice": false},
                  "axis": {"orient": "top", "title": null, "labels": false, "values": [9,10,20,30,40,50,60,70,80,90,100,200,300,400,500,600,700,800,900,1000,2000,3000,4000,5000,6000,7000,8000,9000,10000,20000,30000,40000,50000,60000,70000,80000,90000,100000,200000],
                    "tickSize": {"condition": {"test": "abs(log(datum.value)/LN10 - round(log(datum.value)/LN10)) < 0.01", "value": -7}, "value": -4}}},
                "y": {"field": "ratio", "type": "quantitative", "scale": {"type": "log", "domain": [0.893, 5.19], "nice": false},
                  "axis": {"orient": "right", "title": null, "labels": false, "values": [1,2,3,4], "tickSize": -7}}
              }
            }
          ],
          "resolve": {"axis": {"x": "independent", "y": "independent"}}
        },
        {
          "width": 294, "height": 440,
          "view": {"stroke": null},
          "layer": [
            {
              "data": {"name": "frame"},
              "mark": {"type": "rule", "color": "black", "strokeWidth": 2},
              "encoding": {
                "x": {"field": "slot", "type": "quantitative", "axis": null, "scale": {"domain": [0,1,2,3,4,5,6,7,8,9,10,11,12,13,14,15,16,17,18,19,20,21,22,23], "range": [-135,-105,35,44,57,122,147,207,-73,10,22,-46,0,67,91,149,-43,10,53,93,124,215,220,327], "zero": false, "nice": false}},
                "x2": {"field": "slotEnd"},
                "y": {"field": "line", "type": "quantitative", "axis": null, "scale": {"domain": [0,1,2,3,4,5,6,7,8,9,10,11,12], "range": [0,50,86,121,156,195,320,350,362,385,396,420,430], "zero": false, "nice": false}}
              }
            },
            {
              "data": {"name": "cells"},
              "mark": {"type": "rect", "fillOpacity": 0, "fill": "white", "stroke": "black", "strokeWidth": 1.5},
              "encoding": {
                "x": {"field": "slot", "type": "quantitative", "axis": null},
                "x2": {"field": "slotEnd"},
                "y": {"field": "line", "type": "quantitative", "axis": null},
                "y2": {"field": "lineEnd"}
              }
            },
            {
              "data": {"name": "caption"},
              "transform": [{"filter": "datum.kind == 'body'"}],
              "mark": {"type": "text", "align": "left", "baseline": "alphabetic", "font": "DejaVu Serif", "fontSize": 31, "color": "#151515"},
              "encoding": {
                "x": {"field": "slot", "type": "quantitative", "axis": null},
                "y": {"field": "line", "type": "quantitative", "axis": null},
                "text": {"field": "text"}
              }
            },
            {
              "data": {"name": "caption"},
              "transform": [{"filter": "datum.kind == 'bold'"}],
              "mark": {"type": "text", "align": "left", "baseline": "alphabetic", "font": "DejaVu Serif", "fontSize": 29, "fontWeight": "bold", "color": "#151515"},
              "encoding": {
                "x": {"field": "slot", "type": "quantitative", "axis": null},
                "y": {"field": "line", "type": "quantitative", "axis": null},
                "text": {"field": "text"}
              }
            },
            {
              "data": {"name": "caption"},
              "transform": [{"filter": "datum.kind == 'ital'"}],
              "mark": {"type": "text", "align": "left", "baseline": "alphabetic", "font": "DejaVu Serif", "fontSize": 31, "fontStyle": "italic", "color": "#151515"},
              "encoding": {
                "x": {"field": "slot", "type": "quantitative", "axis": null},
                "y": {"field": "line", "type": "quantitative", "axis": null},
                "text": {"field": "text"}
              }
            },
            {
              "data": {"name": "caption"},
              "transform": [{"filter": "datum.kind == 'sub'"}],
              "mark": {"type": "text", "align": "left", "baseline": "alphabetic", "font": "DejaVu Serif", "fontSize": 23, "dy": 7, "color": "#151515"},
              "encoding": {
                "x": {"field": "slot", "type": "quantitative", "axis": null},
                "y": {"field": "line", "type": "quantitative", "axis": null},
                "text": {"field": "text"}
              }
            }
          ]
        }
      ],
      "spacing": 32,
      "bounds": "flush"
    }
  ],
  "spacing": 430,
  "bounds": "flush"
}
